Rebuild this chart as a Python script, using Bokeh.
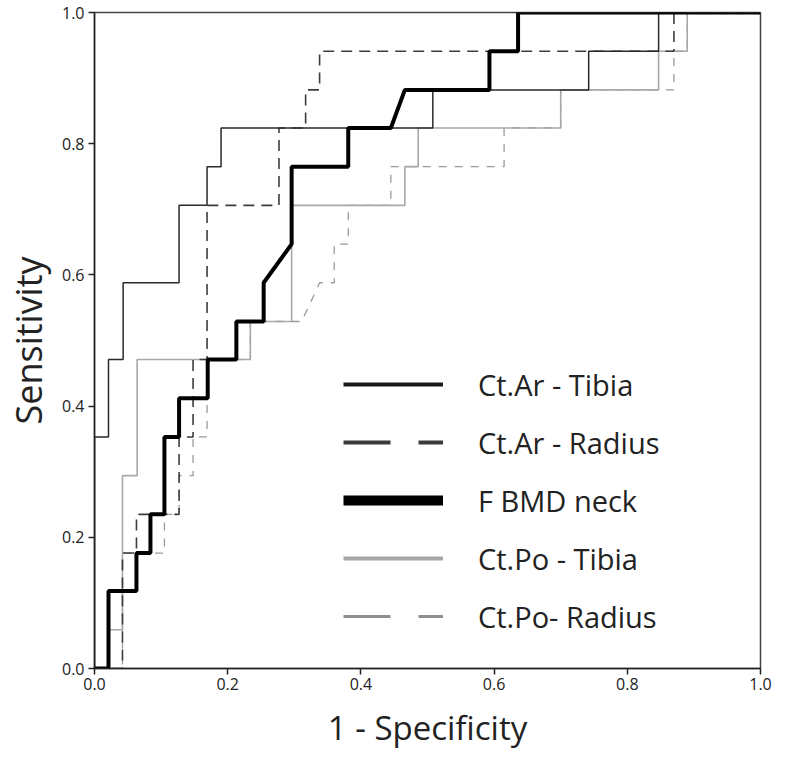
from bokeh.plotting import figure
from bokeh.models import Legend, LegendItem, Range1d, FixedTicker
from bokeh.embed import file_html
from bokeh.resources import INLINE

# ROC step curves (1 - Specificity, Sensitivity)
ct_ar_tibia_x = [0, 0, 0.021, 0.021, 0.043, 0.043, 0.127, 0.127, 0.169, 0.169, 0.19, 0.19,
                 0.508, 0.508, 0.742, 0.742, 0.847, 0.847, 1.0]
ct_ar_tibia_y = [0, 0.353, 0.353, 0.471, 0.471, 0.588, 0.588, 0.706, 0.706, 0.765, 0.765, 0.824,
                 0.824, 0.882, 0.882, 0.941, 0.941, 1.0, 1.0]

ct_ar_radius_x = [0, 0.042, 0.042, 0.063, 0.063, 0.127, 0.127, 0.148, 0.148, 0.169, 0.169, 0.277,
                  0.277, 0.317, 0.317, 0.338, 0.338, 0.87, 0.87, 1.0]
ct_ar_radius_y = [0, 0, 0.176, 0.176, 0.235, 0.235, 0.353, 0.353, 0.471, 0.471, 0.706, 0.706,
                  0.824, 0.824, 0.882, 0.882, 0.941, 0.941, 1.0, 1.0]

f_bmd_neck_x = [0, 0.021, 0.021, 0.063, 0.063, 0.084, 0.084, 0.105, 0.105, 0.127, 0.127, 0.17,
                0.17, 0.213, 0.213, 0.254, 0.254, 0.296, 0.296, 0.381, 0.381, 0.445, 0.466, 0.593,
                0.593, 0.636, 0.636, 1.0]
f_bmd_neck_y = [0, 0, 0.118, 0.118, 0.176, 0.176, 0.235, 0.235, 0.353, 0.353, 0.412, 0.412,
                0.471, 0.471, 0.529, 0.529, 0.588, 0.647, 0.765, 0.765, 0.824, 0.824, 0.882, 0.882,
                0.941, 0.941, 1.0, 1.0]

ct_po_tibia_x = [0, 0.022, 0.022, 0.042, 0.042, 0.064, 0.064, 0.234, 0.234, 0.296, 0.296, 0.466,
                 0.466, 0.486, 0.486, 0.70, 0.70, 0.847, 0.847, 0.89, 0.89, 1.0]
ct_po_tibia_y = [0, 0, 0.059, 0.059, 0.294, 0.294, 0.471, 0.471, 0.529, 0.529, 0.706, 0.706,
                 0.765, 0.765, 0.824, 0.824, 0.882, 0.882, 0.941, 0.941, 1.0, 1.0]

ct_po_radius_x = [0, 0.042, 0.042, 0.105, 0.105, 0.127, 0.127, 0.148, 0.148, 0.169, 0.169, 0.234,
                  0.234, 0.311, 0.338, 0.36, 0.36, 0.381, 0.381, 0.445, 0.445, 0.615, 0.615, 0.70,
                  0.70, 0.87, 0.87, 0.89, 0.89, 1.0]
ct_po_radius_y = [0, 0, 0.176, 0.176, 0.235, 0.235, 0.294, 0.294, 0.353, 0.353, 0.471, 0.471,
                  0.529, 0.529, 0.588, 0.588, 0.647, 0.647, 0.706, 0.706, 0.765, 0.765, 0.824, 0.824,
                  0.882, 0.882, 0.941, 0.941, 1.0, 1.0]

tick_values = [0.0, 0.2, 0.4, 0.6, 0.8, 1.0]
labels = ["Ct.Ar - Tibia", "Ct.Ar - Radius", "F BMD neck", "Ct.Po - Tibia", "Ct.Po- Radius"]

FONT = "Open Sans"
TXT = "#222222"

p = figure(width=772, height=752, output_backend="svg", toolbar_location=None,
           x_range=Range1d(0, 1), y_range=Range1d(0, 1),
           min_border_left=86, min_border_right=12, min_border_top=12, min_border_bottom=80)

p.grid.visible = False
p.outline_line_color = "#444444"
p.outline_line_width = 1.5
p.background_fill_color = "white"
p.border_fill_color = "white"

for ax in (p.xaxis[0], p.yaxis[0]):
    ax.ticker = FixedTicker(ticks=tick_values)
    ax.major_label_overrides = {t: f"{t:.1f}" for t in tick_values}
    ax.minor_tick_line_color = None
    ax.major_tick_in = 0
    ax.major_tick_out = 6
    ax.major_tick_line_color = "#222222"
    ax.major_tick_line_width = 1.5
    ax.axis_line_color = "#222222"
    ax.axis_line_width = 1.5
    ax.major_label_text_font = FONT
    ax.major_label_text_font_size = "16px"
    ax.major_label_text_color = TXT
    ax.axis_label_text_font = FONT
    ax.axis_label_text_font_style = "normal"
    ax.axis_label_text_color = TXT

p.xaxis.axis_label = "1 - Specificity"
p.xaxis.axis_label_text_font_size = "33px"
p.xaxis.axis_label_standoff = 12
p.xaxis.major_label_standoff = 3
p.yaxis.axis_label = "Sensitivity"
p.yaxis.axis_label_text_font_size = "36px"
p.yaxis.axis_label_standoff = 6
p.yaxis.major_label_standoff = 4

# curves (lighter ones underneath)
p.line(ct_po_radius_x, ct_po_radius_y, line_color="#9a9a9a", line_width=1.3, line_dash="8 8")
p.line(ct_po_tibia_x, ct_po_tibia_y, line_color="#a8a8a8", line_width=1.6)
p.line(ct_ar_radius_x, ct_ar_radius_y, line_color="#3c3c3c", line_width=1.6, line_dash="11 7")
p.line(ct_ar_tibia_x, ct_ar_tibia_y, line_color="#2a2a2a", line_width=1.5)
p.line(f_bmd_neck_x, f_bmd_neck_y, line_color="#000000", line_width=4)

# legend samples (renderers with no drawable points, legend styling only)
nan = float("nan")
styles = [
    dict(line_color="#1a1a1a", line_width=4),
    dict(line_color="#3a3a3a", line_width=4, line_dash="47 28"),
    dict(line_color="#000000", line_width=10),
    dict(line_color="#a8a8a8", line_width=4),
    dict(line_color="#8e8e8e", line_width=3, line_dash="47 28"),
]
items = []
for lab, st in zip(labels, styles):
    r = p.line(x=[nan], y=[nan], **st)
    items.append(LegendItem(label=lab, renderers=[r]))

legend = Legend(items=items, location=(249, 32), orientation="vertical",
                glyph_width=100, glyph_height=40, label_height=40, spacing=18,
                label_standoff=35, padding=0, margin=0,
                label_text_font=FONT, label_text_font_size="29px", label_text_color=TXT,
                border_line_alpha=0, background_fill_alpha=0)
p.add_layout(legend, "center")

open("out.html", "w").write(file_html(p, INLINE))
